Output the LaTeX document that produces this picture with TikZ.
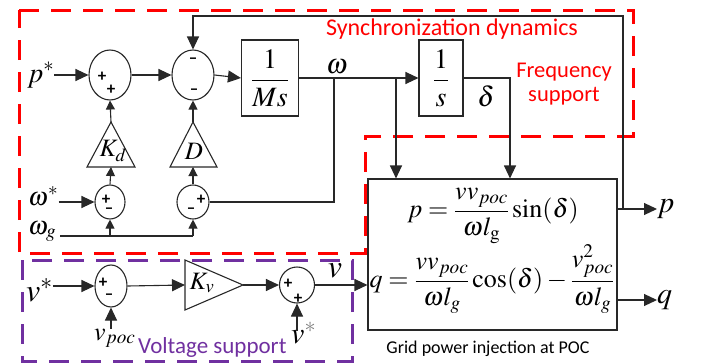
\RequirePackage{fix-cm}
\documentclass[tikz,border=0pt]{standalone}
\usepackage{amsmath}
\usepackage{mathptmx}
\usepackage{fontspec}
\setmainfont{Liberation Serif}
\newfontfamily\labfont{Carlito}
\usetikzlibrary{shapes.geometric,arrows.meta}
\definecolor{redd}{RGB}{255,0,0}
\definecolor{purp}{RGB}{112,48,160}
\definecolor{lncol}{RGB}{40,40,40}
\begin{document}
\begin{tikzpicture}[x=1pt,y=-1pt,
  ln/.style={draw=lncol, line width=1.1pt},
  arr/.style={ln,-{Triangle[length=13pt,width=12pt]}},
  sarr/.style={ln,-{Triangle[length=9pt,width=9pt]}},
  sumnode/.style={draw=lncol, line width=1.1pt, ellipse, inner sep=0pt},
  blk/.style={draw=lncol, line width=1.1pt, rectangle, inner sep=0pt},
  mlab/.style={font=\fontsize{28}{32}\selectfont, inner sep=0pt},
  eqn/.style={font=\fontsize{26}{30}\selectfont, inner sep=0pt},
  sgn/.style={font=\labfont\bfseries\fontsize{17}{17}\selectfont, inner sep=0pt},
  redbox/.style={draw=redd, line width=3pt, dash pattern=on 20pt off 12pt},
  purbox/.style={draw=purp, line width=3pt, dash pattern=on 20pt off 12pt},
  txt/.style={font=\labfont\fontsize{24}{28}\selectfont, inner sep=0pt}]
\useasboundingbox (0,0) rectangle (702,364);

% dashed region frames
\draw[redbox] (19,10) -- (633,10) -- (633,136) -- (365,136) -- (365,253) -- (19,253) -- cycle;
\draw[purbox] (22,260) rectangle (352,361);

% blocks
\node[sumnode, minimum width=42pt, minimum height=50pt] (s1) at (110,75) {};
\node[sumnode, minimum width=42pt, minimum height=50pt] (s2) at (193,75) {};
\node[blk, minimum width=57pt, minimum height=76pt, mlab] (ms) at (270,78) {$\dfrac{1}{Ms}$};
\node[blk, minimum width=44pt, minimum height=76pt, mlab] (inv) at (441,78) {$\dfrac{1}{s}$};
\node[sumnode, minimum width=30pt, minimum height=34pt] (s3) at (110,202) {};
\node[sumnode, minimum width=32pt, minimum height=34pt] (s4) at (193,202) {};
\node[blk, minimum width=249pt, minimum height=151pt] (pw) at (492.5,254.5) {};
\node[sumnode, minimum width=32pt, minimum height=42pt] (s5) at (111,286) {};
\node[sumnode, minimum width=35pt, minimum height=36pt] (s6) at (297,285) {};

% sum signs
\node[sgn] (s1a) at (102,77) {+};
\node[sgn] (s1b) at (111,90) {+};
\node[sgn] (s2a) at (193,61) {–};
\node[sgn] (s2b) at (194,92) {–};
\node[sgn] (s3a) at (106,200) {+};
\node[sgn] (s3b) at (109,211) {–};
\node[sgn] (s4a) at (191,211) {–};
\node[sgn] (s4b) at (201,200) {+};
\node[sgn] (s5a) at (103,283) {+};
\node[sgn] (s5b) at (109,297) {–};
\node[sgn] (s6a) at (288,284) {+};
\node[sgn] (s6b) at (298,299) {+};

% triangles (gains)
\coordinate (kdA) at (111,122); \coordinate (kdB) at (111,167);
\draw[ln] (87,167) -- (kdA) -- (135,167) -- cycle;
\node[mlab, font=\fontsize{25}{28}\selectfont] (kdl) at (113,151) {$K_d$};
\coordinate (ddA) at (193,122); \coordinate (ddB) at (193,167);
\draw[ln] (170,167) -- (ddA) -- (217,167) -- cycle;
\node[mlab, font=\fontsize{25}{28}\selectfont] (ddl) at (194,151) {$D$};
\coordinate (kvL) at (185,285); \coordinate (kvA) at (243,285);
\draw[ln] (185,260) -- (kvA) -- (185,310) -- cycle;
\node[mlab, font=\fontsize{25}{28}\selectfont] (kvl) at (202,283) {$K_v$};

% equations
\node[eqn] (eqp) at (493,216) {$p=\dfrac{vv_{poc}}{\omega l_{\mathrm{g}}}\sin(\delta)$};
\node[eqn] (eqq) at (492,279) {$q=\dfrac{vv_{poc}}{\omega l_g}\cos(\delta)-\dfrac{v_{poc}^{2}}{\omega l_g}$};

% math labels
\node[mlab, anchor=base west] (pst) at (27,82) {$p^{*}$};
\node[mlab, anchor=base] (wl) at (337,73) {$\omega$};
\node[mlab, anchor=base] (dl) at (486,106) {$\delta$};
\node[mlab, anchor=base west, font=\fontsize{26}{30}\selectfont] (wst) at (28,205) {$\omega^{*}$};
\node[mlab, anchor=base west, font=\fontsize{26}{30}\selectfont] (wg) at (28,234) {$\omega_g$};
\node[mlab, anchor=base west, font=\fontsize{32}{34}\selectfont] (vst) at (26,301) {$v^{*}$};
\node[mlab, anchor=base west, font=\fontsize{26}{30}\selectfont] (vpoc) at (94,340) {$v_{poc}$};
\node[mlab, anchor=base west, font=\fontsize{30}{32}\selectfont] (vst2) at (291,343) {$v^{\textcolor{gray}{*}}$};
\node[mlab, anchor=base, font=\fontsize{32}{34}\selectfont] (vl) at (335,277) {$v$};
\node[mlab, anchor=base west, font=\fontsize{30}{32}\selectfont] (pout) at (657,212) {$p$};
\node[mlab, anchor=base west, font=\fontsize{30}{32}\selectfont] (qout) at (657,303) {$q$};

% text labels
\node[txt, text=redd, anchor=base] (sync) at (452,35) {Synchronization dynamics};
\node[txt, text=redd, anchor=base, font=\labfont\fontsize{22.5}{26}\selectfont] (freq1) at (564,77) {Frequency};
\node[txt, text=redd, anchor=base, font=\labfont\fontsize{22.5}{26}\selectfont] (freq2) at (564,101) {support};
\node[txt, text=purp, anchor=base west, font=\labfont\fontsize{23}{26}\selectfont] (volt) at (138,353) {Voltage support};
\node[txt, text=black, anchor=base, font=\labfont\fontsize{18}{20}\selectfont] (grid) at (488,353) {Grid power injection at POC};

% connectors: frequency loop
\draw[arr] (pst.east |- s1.west) -- (s1.west);
\draw[arr] (s1.east) -- (s2.west);
\draw[arr] (s2.east) -- (ms.west);
\draw[arr] (ms.east) -- (inv.west);
\coordinate (dc) at (510,78);
\draw[arr] (inv.east) -- (dc) -- (dc |- pw.north);
\coordinate (wb1) at (334,78);
\coordinate (wb2) at (396,78);
\draw[arr] (wb2) -- (wb2 |- pw.north);
\draw[ln] (wb1) |- (s4.east);
\draw[sarr] (kdA) -- (s1.south);
\draw[sarr] (ddA) -- (s2.south);
\draw[sarr] (s3.north) -- (kdB);
\draw[sarr] (s4.north) -- (ddB);
\draw[arr] (wst.east |- s3.west) -- (s3.west);
\coordinate (wgs) at (60,236);
\coordinate (wg1) at (110,236);
\coordinate (wg2) at (193,236);
\draw[ln] (wgs) -- (wg2);
\draw[sarr] (wg1) -- (s3.south);
\draw[sarr] (wg2) -- (s4.south);

% outputs and feedback
\coordinate (pj) at (617,209);
\coordinate (pfb) at (623,209);
\coordinate (ptop) at (623,16);
\draw[arr] (pj) -- (pout.west |- pj);
\draw[arr] (pfb) -- (ptop) -| (s2.north);
\coordinate (qj) at (617,300);
\draw[arr] (qj) -- (qout.west |- qj);

% voltage loop
\draw[arr] (vst.east |- s5.west) -- (s5.west);
\draw[arr] (s5.south |- vpoc.north) -- (s5.south);
\draw[arr] (s5.east) -- (kvL);
\draw[arr] (kvA) -- (s6.west);
\coordinate (v2s) at (297,331);
\draw[arr] (v2s) -- (s6.south);
\draw[arr] (s6.east) -- (pw.west |- s6.east);
\end{tikzpicture}
\end{document}
